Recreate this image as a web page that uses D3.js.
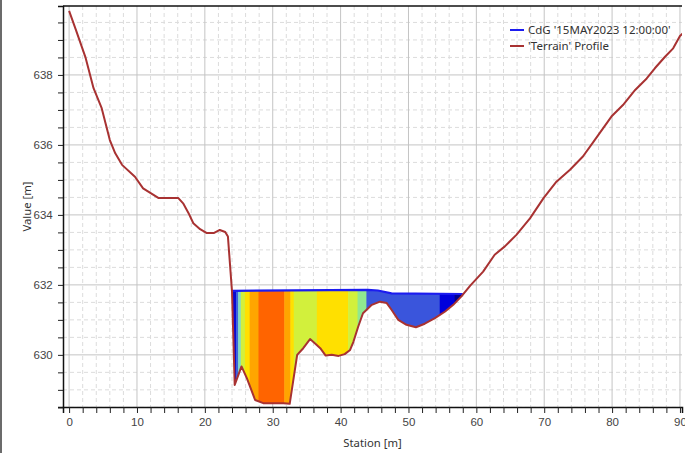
<!DOCTYPE html>
<html>
<head>
<meta charset="utf-8">
<script src="https://cdn.jsdelivr.net/npm/d3@7"></script>
<style>
  body { margin: 0; background: #fff; }
  svg { display: block; font-family: "Noto Sans", "Open Sans", sans-serif; }
</style>
</head>
<body>
<svg id="chart" width="685" height="453"></svg>
<script>
// terrain profile (station m, elevation m)
var terrainStation = [0, 1.0, 2.4, 3.6, 4.8, 6.0, 6.8, 7.8, 9.7, 10.9, 13.2, 16.1, 16.8, 17.6, 18.3, 19.3,
  20.3, 21.3, 22.2, 23.0, 23.4, 24.0, 24.4, 25.4, 26.2, 27.4, 28.6, 30.1, 31.6, 32.5, 33.6, 34.5, 35.5,
  36.2, 37.0, 37.8, 38.7, 39.7, 40.6, 41.4, 41.9, 42.6, 43.3, 44.6, 45.8, 46.8, 47.5, 48.5, 49.7, 51.1,
  52.4, 53.9, 55.4, 56.6, 57.8, 59.1, 61.0, 62.7, 64.2, 65.9, 67.9, 69.9, 71.8, 73.8, 75.7, 77.3, 79.9,
  81.6, 83.4, 85.1, 86.3, 87.8, 89.0, 90.0, 90.6]
var terrainElev = [639.83, 639.29, 638.51, 637.62, 637.05, 636.14, 635.76, 635.43, 635.09, 634.76, 634.48,
  634.48, 634.33, 634.05, 633.76, 633.59, 633.48, 633.48, 633.57, 633.51, 633.38, 631.81, 629.14, 629.67,
  629.33, 628.71, 628.62, 628.62, 628.62, 628.6, 630.0, 630.19, 630.45, 630.33, 630.19, 629.98, 630.0,
  629.97, 630.02, 630.14, 630.38, 630.81, 631.19, 631.43, 631.52, 631.48, 631.29, 631.0, 630.86, 630.79,
  630.89, 631.05, 631.24, 631.43, 631.67, 631.98, 632.38, 632.86, 633.1, 633.43, 633.9, 634.48, 634.95,
  635.29, 635.67, 636.1, 636.81, 637.14, 637.57, 637.9, 638.19, 638.52, 638.76, 639.11, 639.22]

// water surface CdG '15MAY2023 12:00:00'
var wsStation = [23.95, 44.0, 45.5, 47.5, 58.0]
var wsElev = [631.83, 631.86, 631.84, 631.76, 631.74]

// velocity colour bands across the flow area
var bandEdges = [23.9, 24.6, 24.9, 25.3, 25.9, 26.6, 27.9, 31.7, 32.6, 33.1, 36.5, 41.1, 42.5, 43.8, 54.6, 56.8, 58.3]
var bandColors = ["#0a0ad2", "#3c64dc", "#86dcc0", "#d2f03c", "#ffe000", "#ffa500", "#ff6400", "#ffa500",
  "#ffe000", "#d2f03c", "#ffe000", "#d2f03c", "#90e890", "#3a55dc", "#0000dc", "#00008c"]

var xTicks = [0, 10, 20, 30, 40, 50, 60, 70, 80, 90]
var yTicks = [630, 632, 634, 636, 638]

var legendNames = ["CdG '15MAY2023 12:00:00'", "'Terrain' Profile"]
var legendColors = ["#1c1cf0", "#a83232"]

var margin = { left: 63, top: 6, right: 3, bottom: 46 }
var W = 685, H = 453
var pw = 682 - margin.left
var ph = 407 - margin.top

var svg = d3.select("#chart")
svg.append("rect").attr("x", 0).attr("y", 0).attr("width", 2).attr("height", H).attr("fill", "#6b6b6b")

var x = d3.scaleLinear().domain([-0.9, 90.3]).range([0, pw])
var y = d3.scaleLinear().domain([628.51, 639.97]).range([ph, 0])

var g = svg.append("g").attr("transform", "translate(" + margin.left + "," + margin.top + ")")

svg.append("defs").append("clipPath").attr("id", "plotclip")
  .append("rect").attr("width", pw).attr("height", ph)

// grid
var grid = g.append("g")
grid.selectAll(".vminor").data(d3.range(0, 91, 2).filter(d => d % 10 !== 0)).join("line")
  .attr("x1", d => x(d)).attr("x2", d => x(d)).attr("y1", 0).attr("y2", ph)
  .attr("stroke", "#dcdcdc").attr("stroke-dasharray", "4,3")
grid.selectAll(".hminor").data(d3.range(628.5, 640, 0.5).filter(d => d % 2 !== 0)).join("line")
  .attr("y1", d => y(d)).attr("y2", d => y(d)).attr("x1", 0).attr("x2", pw)
  .attr("stroke", "#dcdcdc").attr("stroke-dasharray", "4,3")
grid.selectAll(".vmajor").data(xTicks).join("line")
  .attr("x1", d => x(d)).attr("x2", d => x(d)).attr("y1", 0).attr("y2", ph)
  .attr("stroke", "#c4c4c4")
grid.selectAll(".hmajor").data(yTicks).join("line")
  .attr("y1", d => y(d)).attr("y2", d => y(d)).attr("x1", 0).attr("x2", pw)
  .attr("stroke", "#c4c4c4")

// water flow area: surface forward, terrain backward
var terrain = terrainStation.map((s, i) => [s, terrainElev[i]])
var surface = wsStation.map((s, i) => [s, wsElev[i]])
var s0 = wsStation[0], s1 = wsStation[wsStation.length - 1]
var under = terrain.filter(p => p[0] > s0 && p[0] < s1).reverse()
var poly = surface.concat(under)

svg.select("defs").append("clipPath").attr("id", "waterclip")
  .append("path")
  .attr("d", d3.line().x(p => x(p[0])).y(p => y(p[1]))(poly) + "Z")

var plot = g.append("g").attr("clip-path", "url(#plotclip)")

plot.append("g").attr("clip-path", "url(#waterclip)")
  .selectAll("rect").data(bandColors).join("rect")
  .attr("x", (c, i) => x(bandEdges[i]))
  .attr("width", (c, i) => x(bandEdges[i + 1]) - x(bandEdges[i]) + 0.5)
  .attr("y", y(632.2)).attr("height", y(628.4) - y(632.2))
  .attr("fill", c => c)

plot.append("path").datum(surface)
  .attr("d", d3.line().x(p => x(p[0])).y(p => y(p[1])))
  .attr("fill", "none").attr("stroke", legendColors[0]).attr("stroke-width", 2.2)

plot.append("path").datum(terrain)
  .attr("d", d3.line().x(p => x(p[0])).y(p => y(p[1])))
  .attr("fill", "none").attr("stroke", legendColors[1]).attr("stroke-width", 2)
  .attr("stroke-linejoin", "round")

// axes
var xAxis = d3.axisBottom(x).tickValues(d3.range(0, 91, 2)).tickSize(6)
  .tickFormat(d => xTicks.includes(d) ? d : "")
var gx = g.append("g").attr("transform", "translate(0," + ph + ")").call(xAxis)
gx.select(".domain").attr("stroke", "#111").attr("stroke-width", 1.5)
gx.selectAll(".tick line").attr("stroke", "#222")
gx.selectAll(".tick text").attr("font-size", 11.5).attr("fill", "#444").attr("dy", "0.9em")

var yAxis = d3.axisLeft(y).tickValues(d3.range(628.5, 640, 0.5)).tickSize(5)
  .tickFormat(d => yTicks.includes(d) ? d : "")
var gy = g.append("g").call(yAxis)
gy.select(".domain").attr("stroke", "#111").attr("stroke-width", 1.5)
gy.selectAll(".tick line").attr("stroke", "#222")
gy.selectAll(".tick text").attr("font-size", 11.5).attr("fill", "#444").attr("dx", "-0.2em")

g.append("line").attr("x1", 0).attr("x2", pw).attr("y1", 0).attr("y2", 0)
  .attr("stroke", "#111").attr("stroke-width", 1.5)

svg.append("text").attr("x", margin.left + pw / 2).attr("y", 447).attr("text-anchor", "middle")
  .attr("font-size", 11.3).attr("fill", "#333").text("Station [m]")
svg.append("text").attr("transform", "translate(31," + (margin.top + ph / 2) + ") rotate(-90)")
  .attr("text-anchor", "middle").attr("font-size", 11.3).attr("fill", "#333").text("Value [m]")

// legend
var lg = svg.append("g").attr("transform", "translate(510,30)")
var item = lg.selectAll("g").data(legendNames).join("g")
  .attr("transform", (d, i) => "translate(0," + i * 16 + ")")
item.append("line").attr("x1", 0).attr("x2", 14).attr("stroke", (d, i) => legendColors[i]).attr("stroke-width", 2)
item.append("text").attr("x", 18).attr("dy", "0.35em").attr("font-size", 11.5).attr("fill", "#333").text(d => d)
</script>
</body>
</html>
